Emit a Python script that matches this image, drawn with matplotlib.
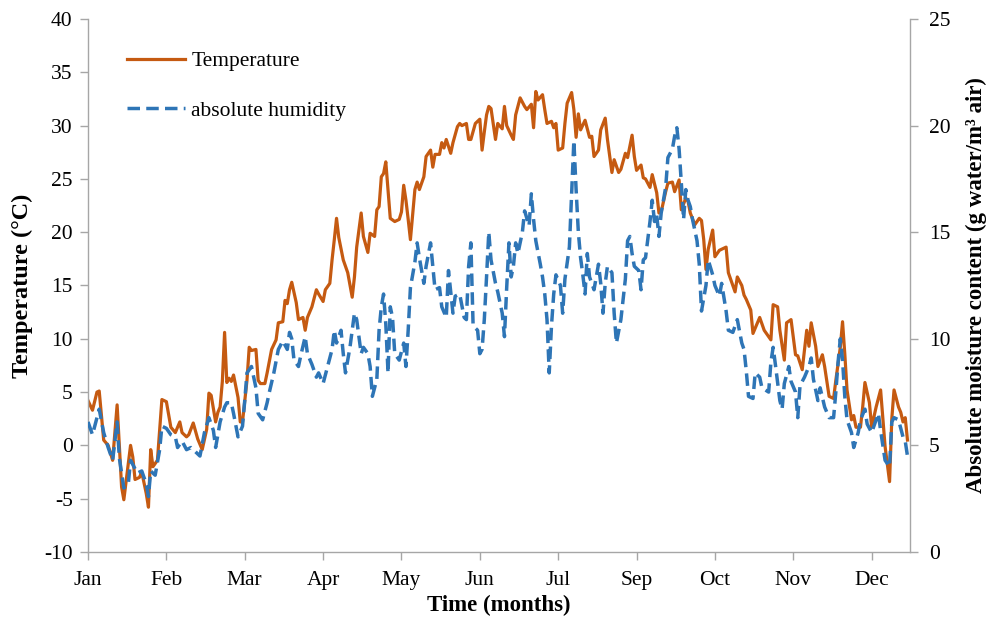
import matplotlib
matplotlib.use("Agg")
import matplotlib.pyplot as plt

# ---- data ----
temp_day = [0, 2, 4, 5, 7, 9, 11, 13, 15, 16, 19, 20, 21, 23, 24, 26, 27, 28, 29, 31,
            33, 35, 37, 39, 41, 42, 44, 45, 47, 49, 51, 53, 54, 55, 57, 58, 59, 60, 61, 62,
            63, 64, 65, 67, 68, 69, 71, 72, 73, 75, 76, 77, 79, 80, 82, 84, 85, 87, 88, 89,
            90, 91, 93, 94, 96, 97, 98, 100, 102, 103, 105, 106, 108, 109, 110, 111, 112, 114, 116, 118,
            119, 120, 122, 123, 125, 126, 128, 129, 130, 131, 132, 133, 134, 135, 137, 139, 140, 141, 142, 143,
            144, 146, 147, 148, 150, 151, 153, 154, 155, 157, 158, 159, 160, 162, 163, 165, 166, 167, 169, 170,
            171, 173, 175, 176, 177, 178, 179, 180, 182, 183, 185, 186, 187, 189, 190, 191, 193, 195, 196, 198,
            199, 200, 201, 203, 204, 205, 207, 208, 209, 210, 212, 213, 214, 216, 217, 218, 219, 220, 222, 224,
            225, 226, 228, 229, 231, 232, 234, 235, 237, 238, 240, 241, 243, 244, 245, 247, 248, 249, 251, 252,
            254, 255, 256, 258, 259, 261, 262, 264, 265, 267, 268, 269, 271, 273, 274, 275, 276, 277, 279, 280,
            282, 285, 286, 287, 289, 290, 292, 293, 294, 296, 297, 298, 300, 301, 302, 305, 306, 308, 309, 311,
            312, 314, 316, 317, 319, 321, 322, 323, 325, 326, 328, 329, 331, 333, 334, 336, 337, 338, 339, 341,
            342, 343, 345, 346, 347, 349, 350, 352, 354, 355, 356, 358, 359, 360, 362, 363, 364, 365, 366]
temperature = [4.2, 3.3, 5.0, 5.1, 0.5, 0.0, -1.4, 3.8, -3.9, -5.1, 0.0, -1.1, -3.2, -3.0, -2.5, -4.5, -5.8, -0.4, -2.0, -1.4,
               4.3, 4.1, 1.7, 1.2, 2.2, 1.2, 0.8, 1.0, 2.1, 0.6, -0.4, 1.5, 4.9, 4.7, 2.2, 3.1, 3.6, 6.0, 10.6, 5.9,
               6.3, 6.0, 6.6, 4.5, 2.2, 2.2, 6.1, 9.2, 8.9, 9.0, 6.1, 5.8, 5.8, 6.8, 9.0, 9.9, 11.5, 11.6, 13.6, 13.3,
               14.6, 15.3, 13.4, 11.8, 12.0, 10.8, 12.0, 13.0, 14.6, 14.2, 13.5, 14.6, 15.2, 17.4, 19.3, 21.3, 19.5, 17.4, 16.2, 13.9,
               15.8, 18.6, 21.8, 19.6, 18.1, 19.9, 19.6, 22.1, 22.4, 25.2, 25.5, 26.6, 24.0, 21.3, 21.0, 21.2, 21.9, 24.4, 23.0, 21.2,
               19.3, 24.0, 24.7, 24.0, 25.2, 27.1, 27.7, 26.1, 27.3, 27.3, 28.4, 27.9, 28.7, 27.4, 28.4, 29.9, 30.2, 30.0, 30.2, 28.7,
               28.7, 30.2, 30.6, 27.7, 29.4, 31.0, 31.8, 31.6, 28.7, 30.2, 29.7, 31.8, 30.0, 29.1, 28.7, 31.0, 32.6, 31.8, 31.5, 32.0,
               29.8, 33.2, 32.4, 32.9, 31.5, 30.2, 30.4, 29.8, 30.2, 27.7, 27.9, 30.2, 32.1, 33.1, 31.5, 28.9, 31.1, 29.6, 30.5, 28.9,
               29.0, 27.1, 27.7, 29.6, 30.7, 28.7, 25.6, 26.8, 25.6, 25.9, 27.4, 27.0, 29.1, 27.1, 25.8, 26.3, 25.1, 25.0, 24.2, 25.4,
               23.7, 21.8, 21.9, 23.8, 24.6, 24.7, 23.8, 24.9, 22.1, 23.2, 22.9, 21.8, 20.7, 21.3, 21.1, 19.3, 16.5, 18.4, 20.2, 17.7,
               18.3, 18.6, 16.2, 15.6, 14.4, 15.8, 15.0, 14.1, 13.7, 12.7, 10.5, 11.0, 12.0, 11.4, 10.8, 9.9, 13.2, 13.0, 10.8, 8.0,
               11.5, 11.8, 8.5, 8.4, 7.1, 10.8, 9.3, 11.5, 9.3, 7.4, 8.5, 7.4, 4.6, 4.4, 6.1, 9.2, 11.6, 8.6, 5.2, 2.4,
               2.8, 1.7, 1.7, 3.6, 5.9, 4.0, 1.7, 3.6, 5.2, 2.6, -0.1, -3.4, 2.5, 5.2, 3.6, 3.1, 2.2, 2.6, 0.5]

hum_day = [0, 2, 3, 5, 7, 9, 11, 13, 14, 16, 18, 19, 21, 22, 24, 26, 27, 28, 30, 32,
           33, 35, 37, 39, 40, 42, 44, 46, 49, 50, 52, 54, 56, 57, 59, 61, 62, 64, 65, 67,
           69, 70, 71, 73, 75, 76, 78, 80, 81, 83, 85, 87, 89, 90, 91, 92, 94, 95, 97, 98,
           100, 102, 103, 105, 106, 109, 110, 111, 113, 114, 115, 117, 118, 119, 120, 122, 123, 125, 126, 127,
           129, 130, 131, 132, 133, 134, 135, 136, 137, 139, 141, 142, 143, 144, 146, 147, 148, 150, 151, 153,
           154, 155, 157, 158, 160, 161, 163, 164, 166, 168, 169, 170, 171, 172, 174, 175, 176, 177, 178, 179,
           180, 182, 183, 185, 186, 187, 188, 189, 190, 191, 192, 194, 195, 197, 198, 199, 200, 202, 203, 204,
           205, 206, 207, 208, 209, 211, 212, 213, 215, 216, 217, 218, 219, 220, 221, 222, 223, 224, 225, 226,
           228, 229, 230, 231, 232, 234, 235, 236, 238, 240, 241, 242, 243, 244, 246, 247, 248, 249, 251, 252,
           253, 254, 255, 256, 258, 259, 261, 262, 263, 264, 265, 266, 267, 268, 269, 270, 272, 273, 274, 276,
           277, 279, 280, 282, 283, 285, 286, 288, 290, 292, 293, 294, 295, 297, 298, 300, 301, 304, 305, 306,
           307, 309, 310, 311, 313, 314, 316, 317, 318, 320, 322, 323, 324, 326, 327, 329, 331, 333, 334, 335,
           336, 337, 338, 339, 341, 342, 344, 345, 347, 348, 350, 353, 354, 356, 358, 359, 360, 362, 364, 365, 366]
humidity = [6.1, 5.5, 5.9, 6.7, 5.6, 4.9, 4.3, 6.1, 4.4, 3.0, 3.2, 4.3, 3.9, 3.7, 3.8, 3.2, 2.6, 3.8, 3.6, 4.8,
            5.9, 5.8, 5.5, 5.4, 4.9, 5.2, 4.8, 4.9, 4.6, 4.5, 5.6, 6.3, 5.7, 4.9, 6.1, 6.8, 7.0, 7.0, 6.5, 5.4,
            5.9, 7.1, 8.4, 8.7, 7.7, 6.5, 6.2, 7.0, 7.5, 8.4, 9.5, 9.9, 9.5, 10.3, 10.0, 9.0, 8.7, 9.2, 10.1, 9.3,
            8.8, 8.2, 8.4, 7.9, 8.3, 9.5, 10.4, 9.8, 10.4, 9.3, 8.4, 9.6, 10.4, 11.2, 10.9, 9.3, 9.6, 9.3, 8.7, 7.3,
            8.1, 10.4, 11.5, 12.1, 10.7, 8.4, 11.5, 11.0, 9.3, 9.0, 9.8, 8.7, 10.4, 12.4, 13.6, 14.5, 13.8, 12.6, 13.4, 14.5,
            13.4, 12.3, 12.4, 11.5, 11.0, 13.2, 11.2, 12.0, 12.1, 11.0, 10.9, 13.4, 14.5, 10.6, 10.4, 9.3, 9.5, 10.9, 12.9, 15.0,
            13.7, 12.6, 12.2, 11.2, 10.1, 12.4, 14.5, 12.9, 13.4, 14.5, 14.0, 15.0, 16.0, 15.3, 16.8, 15.6, 14.6, 13.5, 12.9, 12.1,
            10.9, 8.4, 10.6, 12.1, 13.0, 12.5, 11.2, 12.8, 14.3, 16.8, 19.3, 17.0, 15.0, 13.8, 13.0, 12.1, 14.0, 12.9, 12.6, 12.3,
            13.5, 12.6, 11.2, 12.6, 13.4, 13.1, 11.2, 9.8, 10.9, 12.8, 14.6, 14.8, 14.0, 13.4, 13.2, 12.3, 13.7, 13.8, 15.5, 16.5,
            15.5, 15.8, 14.8, 15.9, 17.1, 18.5, 18.9, 19.5, 19.9, 18.9, 17.3, 15.6, 17.0, 16.5, 16.2, 15.6, 14.6, 13.5, 11.3, 12.5,
            13.7, 13.0, 12.5, 12.0, 12.6, 11.3, 10.4, 10.3, 10.9, 9.8, 9.5, 8.5, 7.3, 7.2, 8.4, 8.2, 7.7, 7.5, 8.9, 9.6,
            8.8, 7.1, 6.7, 7.9, 8.7, 8.0, 7.5, 6.3, 7.8, 8.2, 8.7, 9.1, 8.1, 7.1, 7.7, 6.8, 6.3, 6.3, 7.5, 8.9,
            10.0, 9.0, 7.3, 6.2, 5.6, 4.9, 5.6, 6.2, 6.7, 6.0, 5.6, 6.5, 5.7, 4.3, 4.0, 6.1, 6.3, 6.2, 5.4, 5.2, 4.5]

month_ticks = [0, 35, 70, 105, 140, 175, 210, 245, 280, 315, 350]
month_labels = ["Jan", "Feb", "Mar", "Apr", "May", "Jun", "Jul", "Sep", "Oct", "Nov", "Dec"]
temp_ticks = [-10, -5, 0, 5, 10, 15, 20, 25, 30, 35, 40]
hum_ticks = [0, 5, 10, 15, 20, 25]

# ---- style ----
plt.rcParams["font.family"] = ["Liberation Serif", "DejaVu Serif"]
plt.rcParams["axes.unicode_minus"] = False
ORANGE = "#C55A11"
BLUE = "#2E75B6"
SPINE = "#A6A6A6"
TICK_FS = 15.5
LABEL_FS = 16.5

fig = plt.figure(figsize=(9.9, 6.23), dpi=100)
ax = fig.add_axes([0.0889, 0.114, 0.830, 0.8555])
ax2 = ax.twinx()

l1, = ax.plot(temp_day, temperature, color=ORANGE, lw=2.3, solid_joinstyle="round")
l2, = ax2.plot(hum_day, humidity, color=BLUE, lw=2.5, linestyle=(0, (3.6, 1.8)),
               dash_capstyle="butt")

ax.set_xlim(0, 367)
ax.set_ylim(-10, 40)
ax2.set_ylim(0, 25)
ax.set_xticks(month_ticks)
ax.set_xticklabels(month_labels)
ax.set_yticks(temp_ticks)
ax2.set_yticks(hum_ticks)

for a in (ax, ax2):
    a.spines["top"].set_visible(False)
    for s in ("left", "right", "bottom"):
        a.spines[s].set_color(SPINE)
        a.spines[s].set_linewidth(1.0)
    a.tick_params(axis="both", which="major", color=SPINE, length=6, width=1.0,
                  labelsize=TICK_FS, labelcolor="black", direction="out")
ax.spines["right"].set_visible(False)
ax2.spines["left"].set_visible(False)
ax2.spines["bottom"].set_visible(False)
ax.tick_params(axis="x", pad=8)
ax.tick_params(axis="y", pad=5)
ax2.tick_params(axis="y", pad=8)

ax.set_xlabel("Time (months)", fontsize=LABEL_FS, fontweight="bold", labelpad=3)
ax.set_ylabel("Temperature (°C)", fontsize=LABEL_FS + 1, fontweight="bold", labelpad=8)
ax2.set_ylabel("Absolute moisture content (g water/m³ air)", fontsize=LABEL_FS,
               fontweight="bold", labelpad=11)

ax2.legend([l1, l2], ["Temperature", "absolute humidity"], loc="upper left",
           bbox_to_anchor=(0.047, 0.940), frameon=False, fontsize=TICK_FS,
           borderaxespad=0, borderpad=0,
           handlelength=2.7, handletextpad=0.3, labelspacing=1.38)

fig.savefig("out.png", dpi=100)
